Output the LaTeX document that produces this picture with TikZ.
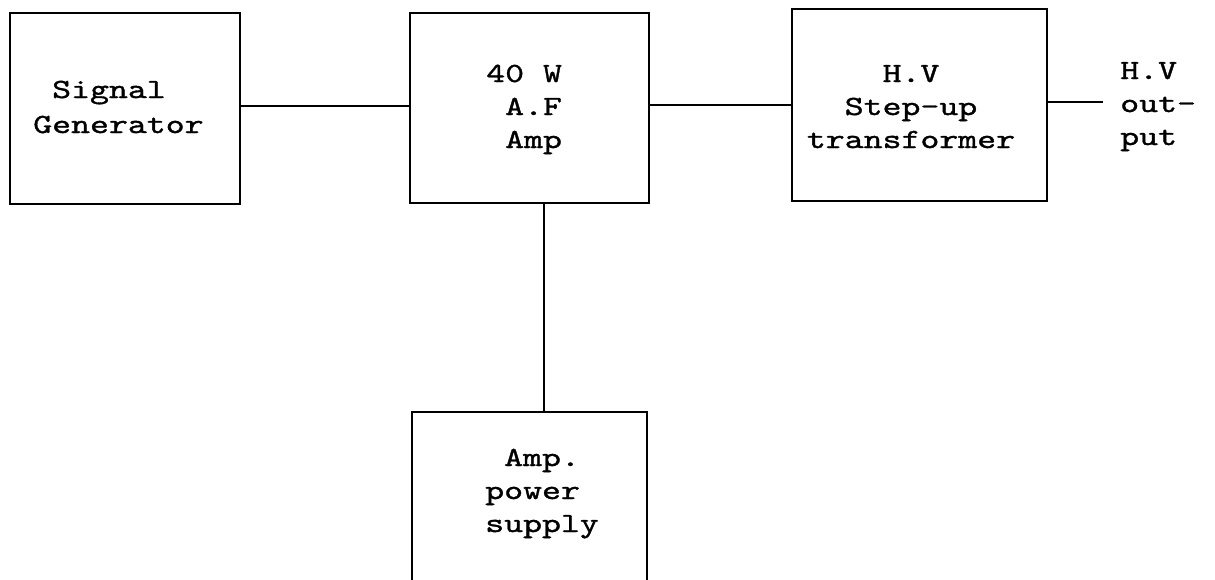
\documentclass[tikz,border=0pt]{standalone}
\usepackage{fontspec}
\newfontfamily\tw[FakeStretch=1.3,FakeBold=1.2]{lmmono10-regular.otf}
\begin{document}
\begin{tikzpicture}[x=0.75pt,y=-0.75pt,
  box/.style={draw=black,line width=2.1pt,rectangle,inner sep=0pt},
  wire/.style={draw=black,line width=1.9pt},
  lbl/.style={inner sep=0pt,font=\tw\fontsize{20.8}{24.75}\selectfont}]
\useasboundingbox[fill=white] (0,0) rectangle (1215,579);
\clip (0,0) rectangle (1215,579);
\node[box,minimum width=172.5pt,minimum height=143.25pt] (sg) at (125,108.5) {};
\node[box,minimum width=179.25pt,minimum height=142.5pt] (amp) at (529.5,108) {};
\node[box,minimum width=191.25pt,minimum height=144pt] (hv) at (919.5,105) {};
\node[box,minimum width=176.25pt,minimum height=156pt] (ps) at (529.5,516) {};
\node[lbl,align=left,anchor=base west] (sgt) at (33,133) {\hphantom{x}Signal\\[1.5pt]Generator};
\node[lbl,align=left,anchor=base west] (ampt) at (486,148) {40 W\\\hphantom{x}A.F\\\hphantom{x}Amp};
\node[lbl,align=center,anchor=base] (hvt) at (911,148) {H.V\\Step-up\\transformer};
\node[lbl,align=left,anchor=base west] (outt) at (1120,145) {H.V\\out-\\put};
\node[lbl,align=left,anchor=base west] (pst) at (485,532) {\hphantom{x}Amp.\\power\\supply};
\coordinate (l1) at (0,106);
\coordinate (oe) at (1103,102);
\coordinate (vx) at (544,0);
\draw[wire] (sg.east |- l1) -- (amp.west |- l1);
\draw[wire] (hv.west -| amp.east) -- (hv.west);
\draw[wire] (hv.east |- oe) -- (oe);
\draw[wire] (amp.south -| vx) -- (ps.north -| vx);
\end{tikzpicture}
\end{document}
